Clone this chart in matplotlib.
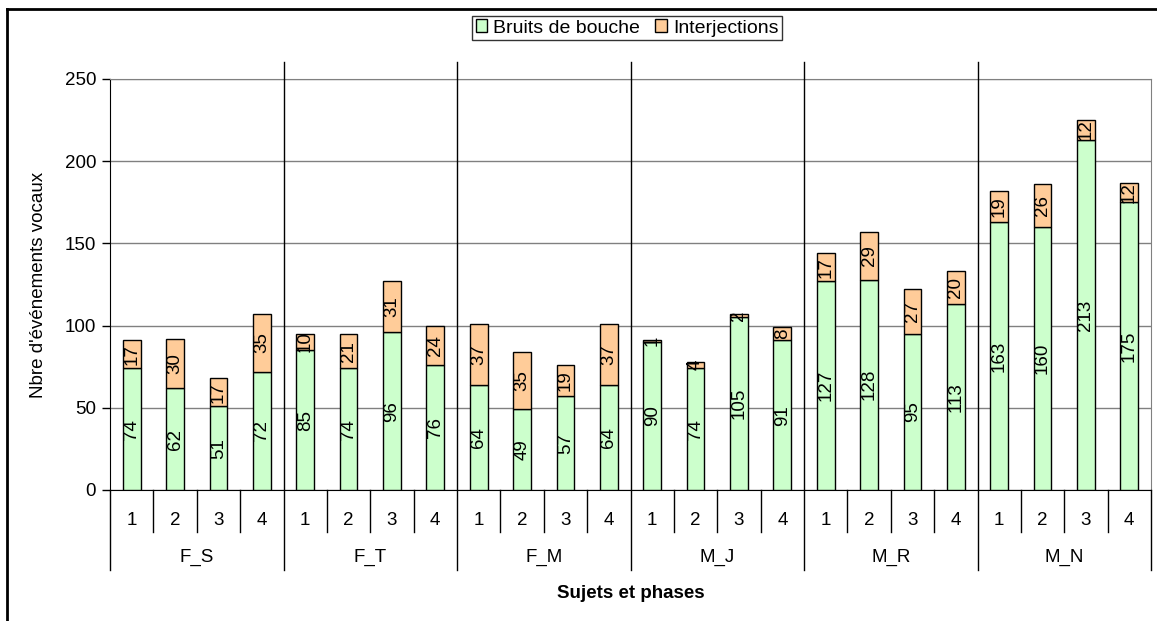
import matplotlib.pyplot as plt
import matplotlib.transforms as mtransforms
from matplotlib.lines import Line2D
import numpy as np

sujets = ['F_S', 'F_T', 'F_M', 'M_J', 'M_R', 'M_N']
phases = ['1', '2', '3', '4']

bruits = [74, 62, 51, 72,
          85, 74, 96, 76,
          64, 49, 57, 64,
          90, 74, 105, 91,
          127, 128, 95, 113,
          163, 160, 213, 175]
interjections = [17, 30, 17, 35,
                 10, 21, 31, 24,
                 37, 35, 19, 37,
                 1, 4, 2, 8,
                 17, 29, 27, 20,
                 19, 26, 12, 12]

plt.rcParams['font.family'] = ['Liberation Sans', 'DejaVu Sans']
fs = 13.5

fig = plt.figure(figsize=(11.57, 6.21), dpi=100)
ax = fig.add_axes([110/1157, 1 - 490/621, 1041/1157, 411/621])

x = np.arange(len(bruits))
b1 = ax.bar(x, bruits, width=0.41, color='#CCFFCC', edgecolor='black', linewidth=1,
            label='Bruits de bouche', zorder=3)
b2 = ax.bar(x, interjections, width=0.41, bottom=bruits, color='#FFCC99',
            edgecolor='black', linewidth=1, label='Interjections', zorder=3)

for rect, v in zip(b1, bruits):
    ax.text(rect.get_x() + rect.get_width()/2, rect.get_y() + rect.get_height()/2, str(v),
            rotation=90, ha='center', va='center', fontsize=fs, zorder=4)
for rect, v in zip(b2, interjections):
    ax.text(rect.get_x() + rect.get_width()/2, rect.get_y() + rect.get_height()/2, str(v),
            rotation=90, ha='center', va='center', fontsize=fs, zorder=4)

ax.set_xlim(-0.5, len(bruits) - 0.5)
ax.set_ylim(0, 250)
ax.set_yticks(range(0, 251, 50))
ax.tick_params(axis='y', labelsize=fs, length=6, width=1, direction='out', pad=4)
ax.yaxis.grid(True, color='#808080', linewidth=1, zorder=0)
ax.set_ylabel("Nbre d'événements vocaux", fontsize=fs, labelpad=13)

ax.set_xticks([])
for s in ['left', 'bottom']:
    ax.spines[s].set_color('black')
for s in ['top', 'right']:
    ax.spines[s].set_color('#808080')

trans = mtransforms.blended_transform_factory(ax.transData, ax.transAxes)

# phase labels and small separators
for i in range(len(bruits)):
    ax.text(i, -0.073, phases[i % 4], transform=trans, ha='center', va='center', fontsize=fs)
    if i % 4 != 0:
        ax.add_line(Line2D([i - 0.5, i - 0.5], [0, -0.102], transform=trans,
                           color='black', linewidth=1, clip_on=False))

# group labels and long separators
for g, name in enumerate(sujets):
    ax.text(4*g + 1.5, -0.165, name, transform=trans, ha='center', va='center', fontsize=fs)
for g in range(len(sujets) + 1):
    xs = 4*g - 0.5
    top = 1.041 if 0 < g < len(sujets) else 0
    ax.add_line(Line2D([xs, xs], [top, -0.195], transform=trans,
                       color='black', linewidth=1, clip_on=False, zorder=5))

ax.text(0.5, -0.253, 'Sujets et phases', transform=ax.transAxes, ha='center', va='center',
        fontsize=fs, fontweight='bold')

fig.legend(handles=[b1, b2], loc='center', bbox_to_anchor=(627/1157, 1 - 28/621), ncol=2,
           fontsize=14, frameon=True, fancybox=False, edgecolor='black', handlelength=0.6,
           handleheight=0.6, handletextpad=0.3, columnspacing=0.8, borderpad=0.2)

# outer chart border (top and left)
fig.add_artist(Line2D([7/1157, 1], [1 - 9/621, 1 - 9/621], transform=fig.transFigure,
                      color='black', linewidth=2))
fig.add_artist(Line2D([7/1157, 7/1157], [0, 1 - 9/621], transform=fig.transFigure,
                      color='black', linewidth=2))

fig.savefig('out.png', dpi=100)
